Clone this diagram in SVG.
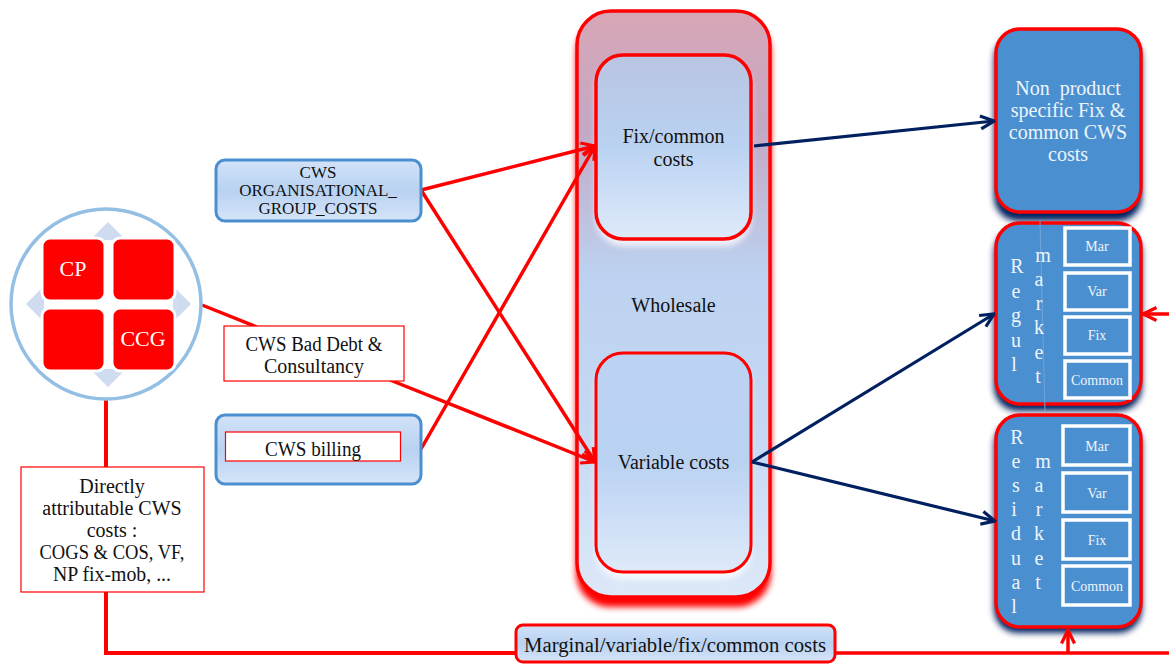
<svg xmlns="http://www.w3.org/2000/svg" width="1169" height="664" viewBox="0 0 1169 664">
<style>
text{font-family:"Liberation Serif","DejaVu Serif",serif;text-anchor:middle;fill:#111}
.t{font-size:20px}
.w{fill:#fff}
.r{stroke:#f00;stroke-width:3.5;fill:none}
.rv{stroke:#f00;stroke-width:4;fill:none}
.n{stroke:#002060;stroke-width:3.2;fill:none}
.blue{fill:#4a90d0;stroke:#f00;stroke-width:3.5}
.sq{fill:#4a90d0;stroke:#fff;stroke-width:3.5}
.redsq{fill:#f00;stroke:#fff;stroke-width:3}
.dia{fill:#cfdbee}
.lab{font-size:14px;fill:#eef4fb}
.v{font-size:20px;fill:#eef4fb}
.box{fill:#fff;stroke:#f00;stroke-width:1.2}
</style>
<defs>
<linearGradient id="outer" x1="0" y1="0" x2="0" y2="1">
<stop offset="0" stop-color="#d8a6b6"/><stop offset=".2" stop-color="#c3a8c4"/><stop offset=".45" stop-color="#bcd2f0"/><stop offset=".7" stop-color="#c4d8f3"/><stop offset="1" stop-color="#dde8f8"/>
</linearGradient>
<linearGradient id="innerA" x1="0" y1="0" x2="0" y2="1">
<stop offset="0" stop-color="#b9c4e2"/><stop offset=".5" stop-color="#bad2f2"/><stop offset="1" stop-color="#dfeafa"/>
</linearGradient>
<linearGradient id="innerB" x1="0" y1="0" x2="0" y2="1">
<stop offset="0" stop-color="#bcd2f2"/><stop offset=".5" stop-color="#bad2f2"/><stop offset="1" stop-color="#dfeafa"/>
</linearGradient>
<linearGradient id="small" x1="0" y1="0" x2="0" y2="1">
<stop offset="0" stop-color="#d2e2f8"/><stop offset=".5" stop-color="#b8d2f2"/><stop offset="1" stop-color="#d6e4f8"/>
</linearGradient>
<filter id="blur" x="-20%" y="-20%" width="140%" height="140%"><feGaussianBlur stdDeviation="3"/></filter>
<marker id="ar" viewBox="0 0 18 18" refX="16.500" refY="9" markerWidth="18" markerHeight="18" markerUnits="userSpaceOnUse" orient="auto"><path d="M3 2.500L16.500 9L3 15.500" fill="none" stroke="#f00" stroke-width="3.2"/></marker>
<marker id="an" viewBox="0 0 18 18" refX="16.500" refY="9" markerWidth="18" markerHeight="18" markerUnits="userSpaceOnUse" orient="auto"><path d="M3 2.500L16.500 9L3 15.500" fill="none" stroke="#002060" stroke-width="3.2"/></marker>
</defs>

<g id="wholesale">
<rect x="576" y="18" width="195" height="589" rx="34" fill="#f00" filter="url(#blur)"/>
<rect x="577" y="11" width="193" height="586" rx="34" fill="url(#outer)" stroke="#f00" stroke-width="3.5"/>
<rect x="596" y="60" width="155" height="186" rx="27" fill="#fff" opacity=".8" filter="url(#blur)"/>
<rect x="596" y="358" width="155" height="221" rx="27" fill="#fff" opacity=".8" filter="url(#blur)"/>
<text class="t" x="673.500" y="312">Wholesale</text>
</g>
<g id="fix-common">
<rect x="596" y="55" width="155" height="184" rx="27" fill="url(#innerA)" stroke="#f00" stroke-width="3.5"/>
<text class="t" x="673.500" y="143">Fix/common</text>
<text class="t" x="673.500" y="166">costs</text>
</g>
<g id="variable">
<rect x="596" y="353" width="155" height="219" rx="27" fill="url(#innerB)" stroke="#f00" stroke-width="3"/>
<text class="t" x="673.500" y="469">Variable costs</text>
</g>

<g id="non-product">
<rect x="994" y="35" width="148" height="186" rx="24" fill="#002060" filter="url(#blur)"/>
<rect class="blue" x="996" y="29" width="145" height="183" rx="24"/>
<text class="v" x="1068" y="95" xml:space="preserve">Non  product</text>
<text class="v" x="1068" y="117">specific Fix &amp;</text>
<text class="v" x="1068" y="139">common CWS</text>
<text class="v" x="1068" y="161">costs</text>
</g>

<g id="regulated">
<rect x="994" y="229" width="148" height="182" rx="24" fill="#002060" filter="url(#blur)"/>
<rect class="blue" x="996" y="223" width="145" height="181" rx="24"/>
<path d="M1040 221L1045 412" stroke="#6da5da" stroke-width="1" fill="none"/>
<text class="v" x="1017" y="273">R</text><text class="v" x="1016" y="298">e</text><text class="v" x="1016" y="322">g</text><text class="v" x="1016" y="347">u</text><text class="v" x="1014" y="371">l</text>
<text class="v" x="1043" y="262">m</text><text class="v" x="1039" y="286">a</text><text class="v" x="1039" y="310">r</text><text class="v" x="1039" y="334">k</text><text class="v" x="1039" y="359">e</text><text class="v" x="1038" y="383">t</text>
<rect class="sq" x="1065" y="228" width="65" height="37"/><text class="lab" x="1097" y="251">Mar</text>
<rect class="sq" x="1065" y="273" width="65" height="37"/><text class="lab" x="1097" y="296">Var</text>
<rect class="sq" x="1065" y="317" width="65" height="37"/><text class="lab" x="1097" y="340">Fix</text>
<rect class="sq" x="1065" y="361" width="65" height="37"/><text class="lab" x="1097" y="385">Common</text>
</g>

<g id="residual">
<rect x="994" y="421" width="148" height="212" rx="24" fill="#002060" filter="url(#blur)"/>
<rect class="blue" x="996" y="415" width="145" height="212" rx="24"/>
<text class="v" x="1017" y="444">R</text><text class="v" x="1016" y="468">e</text><text class="v" x="1016" y="492">s</text><text class="v" x="1014" y="516">i</text><text class="v" x="1016" y="540">d</text><text class="v" x="1016" y="565">u</text><text class="v" x="1016" y="589">a</text><text class="v" x="1014" y="613">l</text>
<text class="v" x="1043" y="468">m</text><text class="v" x="1039" y="492">a</text><text class="v" x="1039" y="516">r</text><text class="v" x="1039" y="540">k</text><text class="v" x="1039" y="565">e</text><text class="v" x="1038" y="589">t</text>
<rect class="sq" x="1063" y="426" width="67" height="39"/><text class="lab" x="1097" y="451">Mar</text>
<rect class="sq" x="1063" y="473" width="67" height="39"/><text class="lab" x="1097" y="498">Var</text>
<rect class="sq" x="1063" y="520" width="67" height="39"/><text class="lab" x="1097" y="545">Fix</text>
<rect class="sq" x="1063" y="566" width="67" height="39"/><text class="lab" x="1097" y="591">Common</text>
</g>

<g id="connectors">
<path class="rv" d="M106 397V653H515"/>
<path class="r" d="M835 653H1169"/>
<path class="r" marker-end="url(#ar)" d="M1068 653V630"/>
<path class="r" d="M202 305L257 327"/>
<path class="r" marker-end="url(#ar)" d="M390 380L595 462"/>
<path class="r" marker-end="url(#ar)" d="M421 190L595 146"/>
<path class="r" marker-end="url(#ar)" d="M421 190L595 462"/>
<path class="r" marker-end="url(#ar)" d="M421 449L595 146"/>
<path class="r" marker-end="url(#ar)" d="M1169 314H1143"/>
<path class="n" marker-end="url(#an)" d="M754 146L994 121"/>
<path class="n" marker-end="url(#an)" d="M752 462L994 314"/>
<path class="n" marker-end="url(#an)" d="M752 462L995 521"/>
</g>

<g id="cws-org">
<rect x="216" y="160" width="205" height="61" rx="9" fill="url(#small)" stroke="#4a8fd0" stroke-width="3"/>
<text x="318" y="178" font-size="17">CWS</text>
<text x="318" y="196" font-size="17">ORGANISATIONAL_</text>
<text x="318" y="214" font-size="17">GROUP_COSTS</text>
</g>
<g id="cws-billing">
<rect x="216" y="415" width="205" height="69" rx="9" fill="url(#small)" stroke="#4a8fd0" stroke-width="3"/>
<rect class="box" x="225.500" y="432" width="175" height="29"/>
<text class="t" x="313" y="456" textLength="96" lengthAdjust="spacingAndGlyphs">CWS billing</text>
</g>
<g id="bad-debt">
<rect class="box" x="224" y="326" width="180" height="55"/>
<text class="t" x="314" y="351" textLength="137" lengthAdjust="spacingAndGlyphs">CWS Bad Debt &amp;</text>
<text class="t" x="314" y="373">Consultancy</text>
</g>
<g id="direct">
<rect class="box" x="21" y="467" width="183" height="125"/>
<text class="t" x="112" y="493">Directly</text>
<text class="t" x="112" y="515">attributable CWS</text>
<text class="t" x="112" y="537">costs :</text>
<text class="t" x="112" y="559" textLength="145" lengthAdjust="spacingAndGlyphs">COGS &amp; COS, VF,</text>
<text class="t" x="112" y="581" textLength="118" lengthAdjust="spacingAndGlyphs">NP fix-mob, ...</text>
</g>

<g id="circle">
<circle cx="106" cy="304" r="95" fill="#fff" stroke="#93bfe4" stroke-width="3.500"/>
<path class="dia" d="M108 222L126 240H90ZM108 387L126 369H90ZM26 304L44 286V322ZM191 304L173 286V322Z"/>
<rect class="redsq" x="42" y="238" width="63" height="63" rx="8"/>
<rect class="redsq" x="112" y="238" width="63" height="63" rx="8"/>
<rect class="redsq" x="42" y="308" width="63" height="63" rx="8"/>
<rect class="redsq" x="112" y="308" width="63" height="63" rx="8"/>
<text class="w" x="73" y="276" font-size="22">CP</text>
<text class="w" x="143" y="346" font-size="22">CCG</text>
</g>

<g id="marginal">
<rect x="516" y="625" width="319" height="37" rx="7" fill="url(#small)" stroke="#f00" stroke-width="3"/>
<text class="t" x="675" y="652" textLength="302" lengthAdjust="spacingAndGlyphs">Marginal/variable/fix/common costs</text>
</g>
</svg>
